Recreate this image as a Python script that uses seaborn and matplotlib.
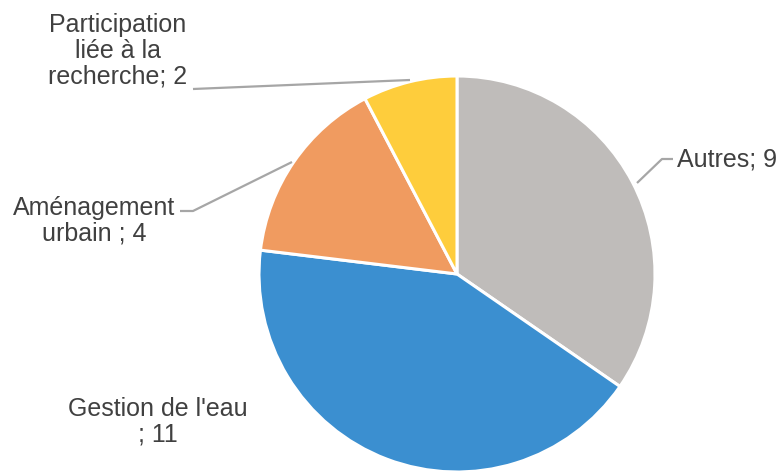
import matplotlib
matplotlib.use("Agg")
import matplotlib.pyplot as plt
import seaborn as sns

# data, clockwise from 12 o'clock
labels = ["Autres", "Gestion de l'eau", "Aménagement urbain", "Participation liée à la recherche"]
values = [9, 11, 4, 2]
colors = ["#BFBCBA", "#3B8FD0", "#F09B60", "#FECD3C"]

sns.set_theme(style="white")
plt.rcParams["font.family"] = ["Liberation Sans", "DejaVu Sans"]

W, H = 779, 471
fig = plt.figure(figsize=(W / 100, H / 100), dpi=100)

cx, cy, r = 457, 274, 198

# pie axes: normal y direction, pixel units
pax = fig.add_axes([0, 0, 1, 1])
pax.pie(values, colors=colors, startangle=90, counterclock=False,
        center=(cx, H - cy), radius=r, frame=True,
        wedgeprops=dict(edgecolor="white", linewidth=2.2))
pax.set_xlim(0, W)
pax.set_ylim(0, H)
pax.set_aspect("auto")
pax.axis("off")

# annotation axes: pixel units, y down
ax = fig.add_axes([0, 0, 1, 1])
ax.set_xlim(0, W)
ax.set_ylim(H, 0)
ax.axis("off")

txt = dict(color="#404040", fontsize=18, ha="center", va="center", linespacing=1.1)
line = dict(color="#A6A6A6", lw=1.6, solid_capstyle="butt")

ax.text(118, 51, "Participation\nliée à la\nrecherche; %d" % values[3], **txt)
ax.plot([193, 410], [89, 80], **line)

ax.text(94, 221, "Aménagement\nurbain ; %d" % values[2], **txt)
ax.plot([180, 193, 292], [211, 211, 162], **line)

ax.text(677, 159, "Autres; %d" % values[0], **dict(txt, ha="left"))
ax.plot([673, 662, 637], [159, 159, 183], **line)

ax.text(158, 422, "Gestion de l'eau\n; %d" % values[1], **txt)

fig.savefig("out.png", dpi=100)
